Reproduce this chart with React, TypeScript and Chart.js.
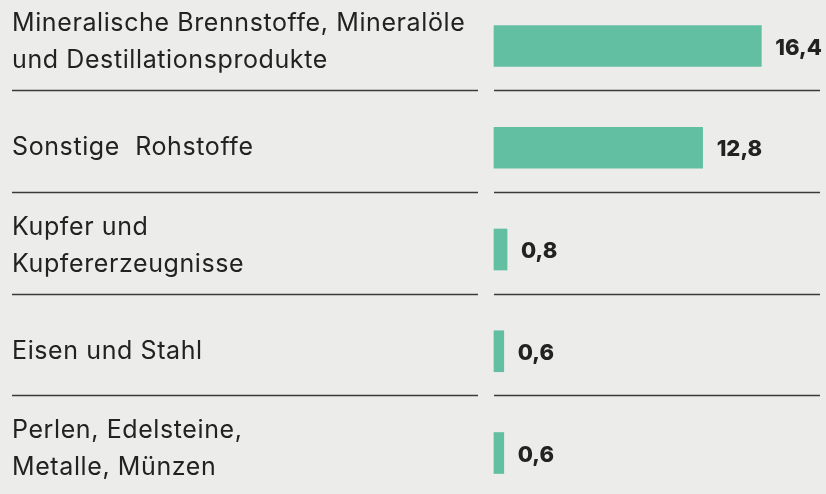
import React, { useEffect, useRef } from 'react';
import { Chart, registerables } from 'chart.js';

Chart.register(...registerables);

const categories: string[][] = [
  ['Mineralische Brennstoffe, Mineralöle', 'und Destillationsprodukte'],
  ['Sonstige  Rohstoffe'],
  ['Kupfer und', 'Kupfererzeugnisse'],
  ['Eisen und Stahl'],
  ['Perlen, Edelsteine,', 'Metalle, Münzen'],
];
const values: number[] = [16.4, 12.8, 0.8, 0.6, 0.6];
const xMax = 20;

const FONT = 'Inter, "Open Sans", sans-serif';
const BG = '#ececeb';
const BAR = '#63bfa2';
const TEXT = '#222222';
const LINE = '#3a3a3a';

const fmt = (v: number) => v.toFixed(1).replace('.', ',');

export default function App() {
  const ref = useRef<HTMLCanvasElement>(null);

  useEffect(() => {
    if (!ref.current) return;

    const spacing = {
      id: 'spacing',
      beforeDraw(chart: any) {
        (chart.ctx as any).letterSpacing = '0.6px';
        // multi-line category labels sit slightly higher than single-line ones
        const items = chart.scales.y.getLabelItems(chart.chartArea);
        items.forEach((it: any) => {
          if (Array.isArray(it.label) && it.label.length > 1 && !it._shifted) {
            it.textOffset -= 4;
            it._shifted = true;
          }
        });
      },
      afterDraw(chart: any) {
        (chart.ctx as any).letterSpacing = '0px';
      },
    };

    const separators = {
      id: 'separators',
      beforeDatasetsDraw(chart: any) {
        const { ctx, chartArea, scales } = chart;
        const y = scales.y;
        ctx.save();
        ctx.strokeStyle = LINE;
        ctx.lineWidth = 1.6;
        for (let i = 0; i < values.length - 1; i++) {
          const py = Math.round(y.getPixelForValue(i) + 44) + 0.5;
          ctx.beginPath();
          ctx.moveTo(12, py);
          ctx.lineTo(chartArea.left - 16, py);
          ctx.moveTo(chartArea.left, py);
          ctx.lineTo(chartArea.right, py);
          ctx.stroke();
        }
        ctx.restore();
      },
    };

    const valueLabels = {
      id: 'valueLabels',
      afterDatasetsDraw(chart: any) {
        const { ctx } = chart;
        const meta = chart.getDatasetMeta(0);
        ctx.save();
        (ctx as any).letterSpacing = '0px';
        ctx.fillStyle = TEXT;
        ctx.font = `800 22px ${FONT}`;
        ctx.textAlign = 'left';
        ctx.textBaseline = 'middle';
        meta.data.forEach((bar: any, i: number) => {
          ctx.fillText(fmt(values[i]), bar.x + 14, bar.y + 2);
        });
        ctx.restore();
      },
    };

    const chart = new Chart(ref.current, {
      type: 'bar',
      data: {
        labels: categories,
        datasets: [
          {
            data: values,
            backgroundColor: BAR,
            borderWidth: 0,
            barThickness: 41,
            clip: false as any,
          },
        ],
      },
      options: {
        indexAxis: 'y',
        animation: false,
        responsive: false,
        maintainAspectRatio: false,
        layout: { padding: { left: 12, right: 6, top: 46, bottom: 41 } },
        plugins: {
          legend: { display: false },
          tooltip: { enabled: false },
        },
        scales: {
          x: { display: false, min: 0, max: xMax },
          y: {
            offset: false,
            grid: { display: false },
            border: { display: false },
            ticks: {
              autoSkip: false,
              crossAlign: 'far',
              padding: 0,
              color: TEXT,
              font: { family: FONT, size: 25, lineHeight: '37px' },
            },
            afterFit: (s: any) => {
              s.width = 482;
            },
          },
        },
      },
      plugins: [spacing, separators, valueLabels],
    });

    return () => chart.destroy();
  }, []);

  return (
    <div
      style={{
        position: 'absolute',
        left: 0,
        top: 0,
        width: 826,
        height: 494,
        background: BG,
        overflow: 'hidden',
      }}
    >
      <canvas ref={ref} width={826} height={494} style={{ display: 'block' }} />
    </div>
  );
}
